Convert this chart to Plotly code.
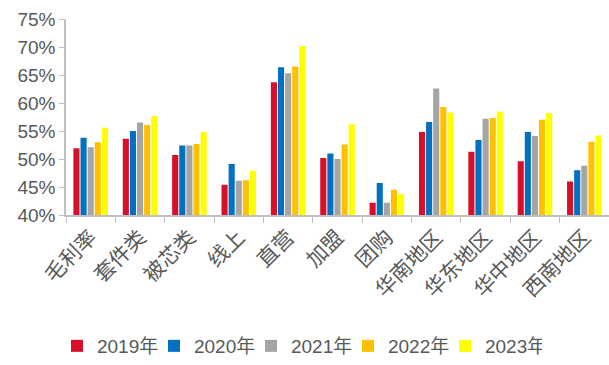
import plotly.graph_objects as go

categories = ["毛利率", "套件类", "被芯类", "线上", "直营", "加盟", "团购",
              "华南地区", "华东地区", "华中地区", "西南地区"]
series_names = ["2019年", "2020年", "2021年", "2022年", "2023年"]
v2019 = [51.9, 53.6, 50.7, 45.4, 63.7, 50.2, 42.2, 54.8, 51.3, 49.6, 46.0]
v2020 = [53.8, 55.0, 52.4, 49.1, 66.4, 51.0, 45.7, 56.6, 53.4, 54.8, 48.0]
v2021 = [52.1, 56.5, 52.4, 46.1, 65.3, 50.0, 42.2, 62.6, 57.2, 54.1, 48.8]
v2022 = [53.0, 56.1, 52.7, 46.2, 66.5, 52.6, 44.5, 59.3, 57.3, 57.0, 53.1]
v2023 = [55.6, 57.7, 54.8, 47.9, 70.2, 56.2, 43.7, 58.3, 58.5, 58.2, 54.2]
yticks = [40, 45, 50, 55, 60, 65, 70, 75]
ytick_labels = [f"{t}%" for t in yticks]

colors = ["#D7102A", "#0070C0", "#A5A5A5", "#FFC000", "#FFFF00"]
font_family = "Liberation Sans, Arial, Noto Sans CJK SC, sans-serif"

fig = go.Figure()
for name, vals, c in zip(series_names, [v2019, v2020, v2021, v2022, v2023], colors):
    fig.add_trace(go.Bar(x=categories, y=vals, name=name, marker_color=c,
                         marker_line_width=0))

fig.update_layout(
    width=609, height=365,
    margin=dict(l=66, r=0, t=19, b=146),
    paper_bgcolor="white", plot_bgcolor="white",
    barmode="group", bargap=0.28, bargroupgap=0.14,
    font=dict(family=font_family, color="#595959"),
    showlegend=True,
    legend=dict(orientation="h", x=0.43, xanchor="center", y=-0.67, yanchor="middle",
                font=dict(size=19, color="#595959"), itemwidth=30,
                entrywidth=52, entrywidthmode="pixels",
                traceorder="normal"),
)
fig.update_yaxes(range=[40, 75], tickvals=yticks, ticktext=ytick_labels,
                 showgrid=False, zeroline=False, showline=True, linecolor="#BFBFBF",
                 linewidth=1.5, ticks="outside", ticklen=5, tickcolor="#BFBFBF",
                 automargin=False,
                 tickfont=dict(size=19, color="#595959"))
fig.update_xaxes(showgrid=False, showline=True, linecolor="#BFBFBF", linewidth=1.5,
                 ticks="outside", ticklen=6, tickcolor="#BFBFBF", tickson="boundaries",
                 tickangle=-45, automargin=False,
                 tickfont=dict(size=21, color="#595959"))

fig.write_html("out.html")
